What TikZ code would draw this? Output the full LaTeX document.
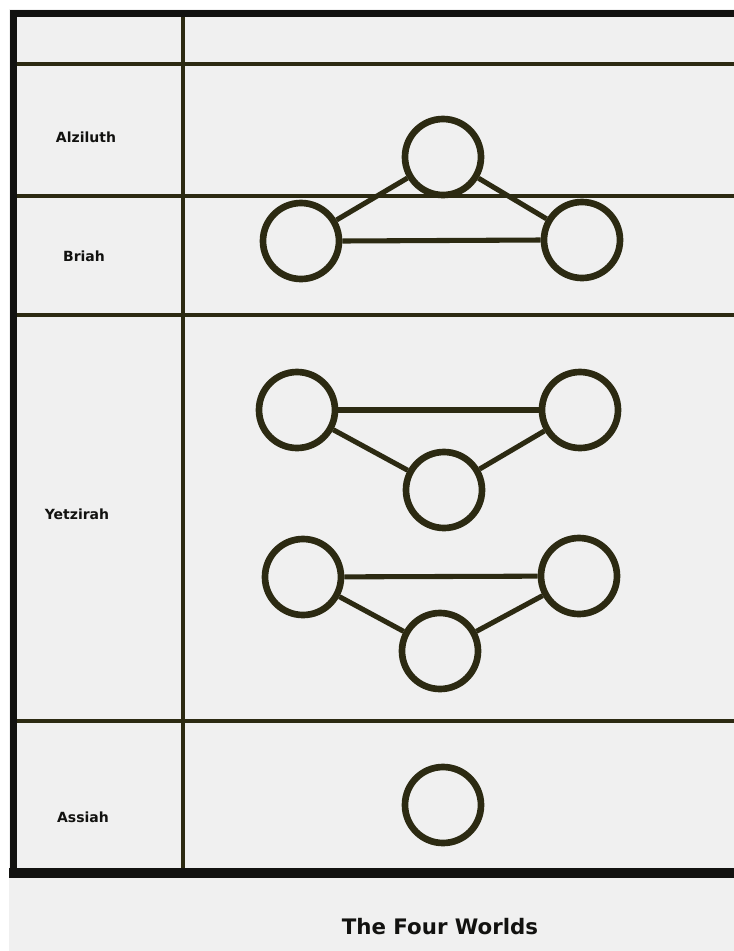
\documentclass[tikz,border=0pt]{standalone}
\usepackage{fontspec}
\setmainfont{DejaVu Sans}
\definecolor{bg}{HTML}{F0F0F0}
\definecolor{ink}{HTML}{2C2A12}
\definecolor{frame}{HTML}{121210}
\tikzset{
  world/.style={circle, draw=ink, line width=5pt, minimum size=57pt, inner sep=0pt},
  link/.style={draw=ink, line width=3.8pt},
  grid/.style={draw=ink, line width=2.3pt},
  thick frame/.style={draw=frame, line width=5.5pt},
  label/.style={font=\bfseries\fontsize{10.5}{12}\selectfont, text=frame, inner sep=0pt},
}
\begin{document}
\begin{tikzpicture}[x=0.75pt,y=-0.75pt]
\useasboundingbox (0,0) rectangle (734,951);
\fill[white] (0,0) rectangle (734,951);
\fill[bg] (9,9) rectangle (734,951);
% grid lines
\coordinate (h1l) at (17,64);  \coordinate (h1r) at (734,64);
\coordinate (h2l) at (17,196); \coordinate (h2r) at (734,196);
\coordinate (h3l) at (17,315); \coordinate (h3r) at (734,315);
\coordinate (h4l) at (17,721); \coordinate (h4r) at (734,721);
\coordinate (vt) at (183,14); \coordinate (vb) at (183,873);
\draw[grid] (h1l) -- (h1r);
\draw[grid] (h2l) -- (h2r);
\draw[grid] (h3l) -- (h3r);
\draw[grid] (h4l) -- (h4r);
\draw[grid] (vt) -- (vb);
% frame
\coordinate (ftl) at (13.5,13.5);
\coordinate (ftr) at (734,13.5);
\coordinate (fbl) at (13.5,873);
\coordinate (fbr) at (734,873);
\coordinate (fbs) at (9,873);
\draw[thick frame] (ftr) -- (ftl) -- (fbl);
\draw[draw=frame, line width=7.5pt] (fbs) -- (fbr);
% labels
\node[label] (alz) at (86,137) {Alziluth};
\node[label] (bri) at (84,256) {Briah};
\node[label] (yet) at (77,514) {Yetzirah};
\node[label] (ass) at (83,817) {Assiah};
% Alziluth / Briah triad
\node[world] (k) at (443,157) {};
\node[world] (bl) at (301,241) {};
\node[world] (br) at (582,240) {};
\draw[link] (k) -- (bl);
\draw[link] (k) -- (br);
\draw[link] (bl.east) -- (br.west);
% Yetzirah upper triad
\node[world] (y1l) at (297,410) {};
\node[world] (y1r) at (580,410) {};
\node[world] (y1b) at (444,490) {};
\draw[link] (y1l) -- (y1r);
\draw[link] (y1l) -- (y1b);
\draw[link] (y1r) -- (y1b);
% Yetzirah lower triad
\node[world] (y2l) at (303,577) {};
\node[world] (y2r) at (579,576) {};
\node[world] (y2b) at (440,651) {};
\draw[link] (y2l) -- (y2r);
\draw[link] (y2l) -- (y2b);
\draw[link] (y2r) -- (y2b);
% Assiah
\node[world] (a) at (443,805) {};
% title
\node[font=\bfseries\fontsize{16}{19}\selectfont, text=frame, inner sep=0pt] (title) at (440,927) {The Four Worlds};
\end{tikzpicture}
\end{document}
